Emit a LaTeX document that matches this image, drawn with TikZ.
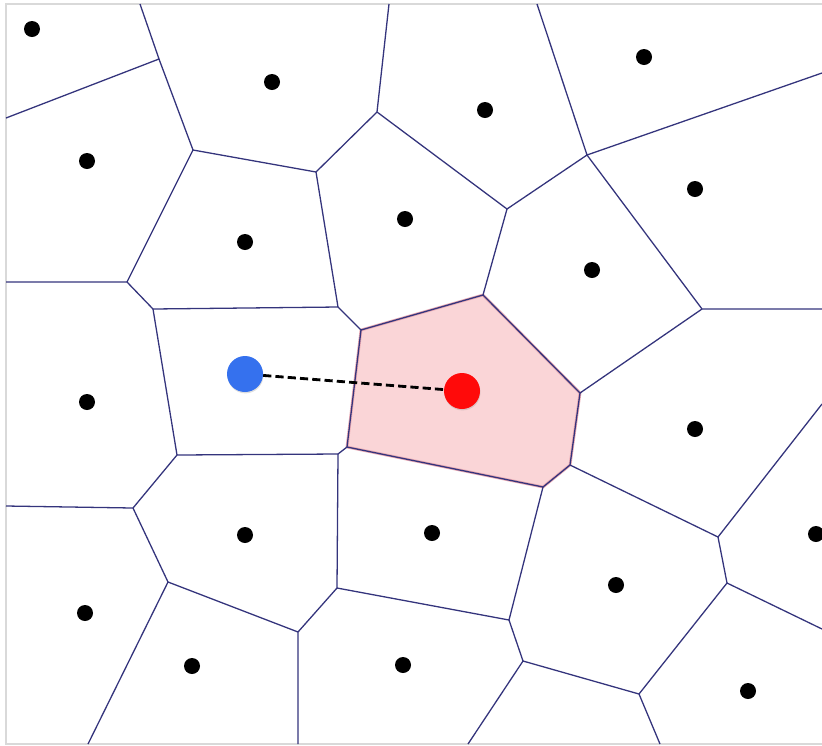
\documentclass[tikz,border=0pt]{standalone}
\usepackage{xcolor}
\usepackage{tikz}
\usetikzlibrary{positioning, shadows}
\definecolor{navy}{HTML}{34347C}
\definecolor{cellpink}{HTML}{FAD5D7}
\definecolor{pinkedge}{HTML}{E9A9B2}
\definecolor{qblue}{HTML}{3571EE}
\definecolor{qred}{HTML}{FF0A0A}
\definecolor{frame}{HTML}{D9D9D9}

\begin{document}
\begin{tikzpicture}[
  x=0.03cm, y=-0.03cm,
  site/.style={circle, fill=black, inner sep=0pt, minimum size=0.48cm},
  query/.style={circle, inner sep=0pt, minimum size=1.08cm, drop shadow={opacity=0.25, shadow xshift=0.4pt, shadow yshift=-1.2pt}},
  edge/.style={draw=navy, line width=1.1pt, line join=round},
  link/.style={black, line width=2.4pt, dash pattern=on 7pt off 3.5pt}
]
  \useasboundingbox (0,0) rectangle (822,745);
  \draw[frame, line width=1.2pt] (822,4) -- (6,4) -- (6,744) -- (822,744);

  % Voronoi vertices
  \coordinate (v1) at (159,59);   \coordinate (v2) at (193,150);
  \coordinate (v3) at (316,172);  \coordinate (v4) at (127,282);
  \coordinate (v5) at (153,309);  \coordinate (v6) at (338,307);
  \coordinate (v7) at (377,112);  \coordinate (v8) at (507,209);
  \coordinate (v9) at (361,330);  \coordinate (v10) at (587,155);
  \coordinate (v11) at (702,309); \coordinate (v12) at (483,295);
  \coordinate (v13) at (177,455); \coordinate (v14) at (338,454);
  \coordinate (v15) at (133,508); \coordinate (v16) at (168,582);
  \coordinate (v17) at (298,632); \coordinate (v18) at (337,588);
  \coordinate (v19) at (347,447); \coordinate (v20) at (509,620);
  \coordinate (v21) at (580,393); \coordinate (v22) at (570,465);
  \coordinate (v23) at (543,487); \coordinate (v24) at (718,537);
  \coordinate (v25) at (727,583); \coordinate (v26) at (639,694);
  \coordinate (v27) at (523,661);

  % ends on the frame
  \coordinate (b1) at (140,4);   \coordinate (b2) at (6,118);
  \coordinate (b3) at (6,282);   \coordinate (b4) at (389,4);
  \coordinate (b5) at (537,4);   \coordinate (b6) at (822,73);
  \coordinate (b7) at (822,309); \coordinate (b8) at (822,404);
  \coordinate (b9) at (822,629); \coordinate (b10) at (660,744);
  \coordinate (b11) at (468,744); \coordinate (b12) at (298,744);
  \coordinate (b13) at (88,744); \coordinate (b14) at (6,506);

  % highlighted cell
  \fill[cellpink] (v9) -- (v12) -- (v21) -- (v22) -- (v23) -- (v19) -- cycle;
  \draw[pinkedge, line width=2.4pt, line join=round] (v9) -- (v12) -- (v21) -- (v22) -- (v23) -- (v19) -- cycle;

  \draw[edge] (b1) -- (v1) -- (b2);
  \draw[edge] (v1) -- (v2) -- (v3) -- (v7) -- (b4);
  \draw[edge] (v2) -- (v4) -- (b3);
  \draw[edge] (v4) -- (v5) -- (v6) -- (v3);
  \draw[edge] (v6) -- (v9) -- (v12) -- (v8) -- (v7);
  \draw[edge] (b5) -- (v10) -- (b6);
  \draw[edge] (v8) -- (v10) -- (v11) -- (b7);
  \draw[edge] (v11) -- (v21) -- (v12);
  \draw[edge] (v21) -- (v22) -- (v23) -- (v19) -- (v9);
  \draw[edge] (v5) -- (v13) -- (v14) -- (v19);
  \draw[edge] (v13) -- (v15) -- (b14);
  \draw[edge] (v15) -- (v16) -- (b13);
  \draw[edge] (v16) -- (v17) -- (b12);
  \draw[edge] (v17) -- (v18) -- (v14);
  \draw[edge] (v18) -- (v20) -- (v23);
  \draw[edge] (v20) -- (v27) -- (b11);
  \draw[edge] (v27) -- (v26) -- (b10);
  \draw[edge] (v26) -- (v25) -- (b9);
  \draw[edge] (v25) -- (v24) -- (b8);
  \draw[edge] (v24) -- (v22);

  % sites
  \node[site] (s1) at (32,29) {};
  \node[site] (s2) at (272,82) {};
  \node[site] (s3) at (485,110) {};
  \node[site] (s4) at (644,57) {};
  \node[site] (s5) at (87,161) {};
  \node[site] (s6) at (245,242) {};
  \node[site] (s7) at (405,219) {};
  \node[site] (s8) at (695,189) {};
  \node[site] (s9) at (592,270) {};
  \node[site] (s10) at (87,402) {};
  \node[site] (s11) at (695,429) {};
  \node[site] (s12) at (816,534) {};
  \node[site] (s13) at (245,535) {};
  \node[site] (s14) at (432,533) {};
  \node[site] (s15) at (616,585) {};
  \node[site] (s16) at (85,613) {};
  \node[site] (s17) at (192,666) {};
  \node[site] (s18) at (403,665) {};
  \node[site] (s19) at (748,691) {};

  \node[query, fill=qblue] (start) at (245,374) {};
  \node[query, fill=qred] (nearest) at (462,391) {};
  \draw[link] (start) -- (nearest);
\end{tikzpicture}
\end{document}
